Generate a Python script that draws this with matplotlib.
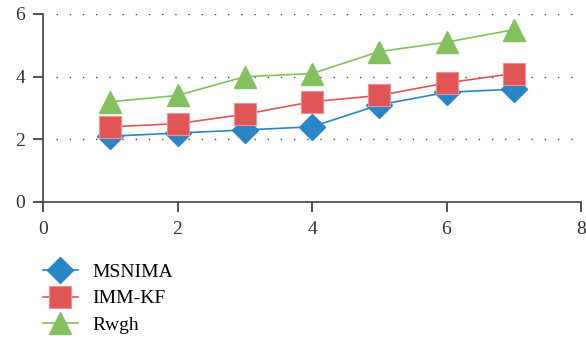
import matplotlib.pyplot as plt

x = [1, 2, 3, 4, 5, 6, 7]
msnima = [2.1, 2.2, 2.3, 2.4, 3.1, 3.5, 3.6]
immkf = [2.4, 2.5, 2.8, 3.2, 3.4, 3.8, 4.1]
rwgh = [3.2, 3.4, 4.0, 4.1, 4.8, 5.1, 5.5]

plt.rcParams['font.family'] = ['Liberation Serif', 'DejaVu Serif']

fig = plt.figure(figsize=(5.86, 3.43), dpi=100)
ax = fig.add_axes([43/586, 1 - 202/343, 538/586, 188/343])

ax.plot(x, msnima, color='#2a85c4', marker='D', markersize=13, lw=1.2,
        markeredgecolor='#2a85c4', label='MSNIMA')
ax.plot(x, immkf, color='#e05555', marker='s', markersize=16.5, lw=1.2,
        markeredgecolor='#f09090', markeredgewidth=0.8, label='IMM-KF')
ax.plot(x, rwgh, color='#82c060', marker='^', markersize=16.5, lw=1.2,
        markeredgecolor='#82c060', label='Rwgh')

ax.set_xlim(0, 8)
ax.set_ylim(0, 6)
ax.set_xticks([0, 2, 4, 6, 8])
ax.set_yticks([0, 2, 4, 6])
ax.hlines([2, 4, 6], 0.2, 7.92, color='#444444', lw=1, ls=(0, (1, 8.5)), zorder=0)
for s in ['top', 'right']:
    ax.spines[s].set_visible(False)
for s in ['left', 'bottom']:
    ax.spines[s].set_color('#444444')
    ax.spines[s].set_linewidth(1.2)
ax.tick_params(axis='both', labelsize=14, colors='#333333', length=7, width=1.2)
ax.tick_params(axis='x', pad=7)
ax.tick_params(axis='y', pad=6)
for ln in ax.lines:
    ln.set_clip_on(False)

fig.legend(loc='upper left', bbox_to_anchor=(25/586, 1 - 246/343), frameon=False,
           fontsize=14, handlelength=1.8, labelspacing=0.45, handletextpad=0.75)

fig.savefig('out.png', dpi=100)
